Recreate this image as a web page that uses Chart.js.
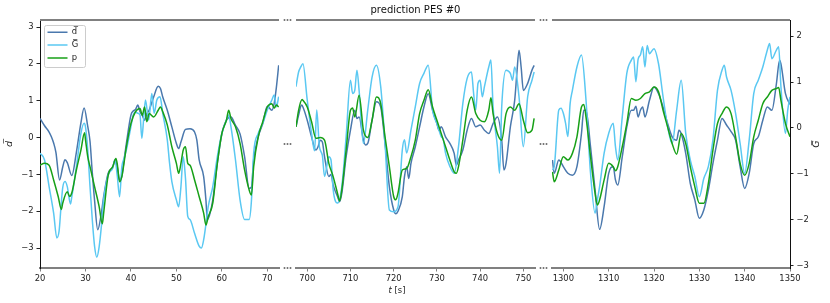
<!DOCTYPE html>
<html>
<head>
<meta charset="utf-8">
<script src="https://cdn.jsdelivr.net/npm/chart.js@4.4.1/dist/chart.umd.min.js"></script>
<style>
  html, body { margin: 0; padding: 0; background: #fff; }
  #wrap { position: relative; width: 830px; height: 303px; }
  #wrap canvas { position: absolute; left: 0; top: 0; }
</style>
</head>
<body>
<div id="wrap">
  <canvas id="c1" width="830" height="303"></canvas>
  <canvas id="c2" width="830" height="303"></canvas>
  <canvas id="c3" width="830" height="303"></canvas>
</div>
<script>
// time ranges shown in the three panels of the broken axis
const ranges = [[20, 72.57], [697.4, 752.7], [1297.5, 1350]];
const xTicks = [[20, 30, 40, 50, 60, 70], [700, 710, 720, 730, 740, 750], [1300, 1310, 1320, 1330, 1340, 1350]];
const yTicksLeft = [-3, -2, -1, 0, 1, 2, 3];
const yTicksRight = [-3, -2, -1, 0, 1, 2];

// d bar (left axis), [t, value]
const dBar1 = [[20,0.52],[21,0.32],[22,0.15],[22.5,0.02],[23,-0.15],[23.5,-0.4],[24.3,-1.15],[25,-0.8],[25.5,-0.6],[26,-0.68],[27,-1.03],[28,-0.4],[29,0.4],[29.7,0.8],[30.5,0.3],[31,-0.1],[31.5,-0.95],[32,-1.7],[32.7,-2.5],[33.5,-2.05],[34,-1.6],[35,-0.97],[36,-0.8],[36.5,-0.6],[37,-0.8],[37.5,-1.15],[38,-1.05],[38.5,-0.6],[39,-0.16],[40,0.61],[40.5,0.72],[41,0.76],[41.5,0.88],[42,0.7],[42.5,0.6],[43,0.47],[43.5,0.65],[44,0.74],[44.5,0.92],[45,1.1],[46,1.39],[46.5,1.33],[47,1.1],[48,0.74],[49,0.29],[50,-0.16],[50.5,-0.3],[51,-0.12],[52,0.22],[53,0.24],[54,0.15],[54.5,-0.07],[55,-0.6],[56,-1.06],[56.5,-1.7],[56.8,-2.22],[57.3,-2.1],[58,-1.7],[59,-0.7],[60,0.1],[61,0.47],[62,0.56],[63,0.33],[64,0.1],[65,-0.52],[66,-1.38],[66.5,-1.35],[67,-0.6],[68,0.02],[69,0.38],[70,0.85],[71,0.74],[71.5,0.92],[72,1.37],[72.5,1.96]];
const dBar2 = [[697.4,0.29],[698,0.61],[698.7,0.88],[699,0.83],[700,0.47],[701,0.02],[702,-0.34],[702.5,-0.25],[703,-0.07],[703.5,-0.12],[704,-0.52],[705,-1.06],[705.5,-1.0],[706,-1.29],[707,-1.6],[707.5,-1.74],[708,-1.51],[709,-0.52],[710,0.2],[711,0.74],[711.5,0.52],[712,0.56],[713,-0.07],[713.5,-0.2],[714,-0.16],[715,0.47],[716,0.97],[717,0.83],[718,-0.16],[719,-1.33],[720,-1.96],[720.5,-2.07],[721,-2.0],[722,-1.6],[722.5,-1.06],[723,-0.79],[723.5,-1.11],[724,-0.7],[725,-0.25],[726,0.29],[727,0.83],[728,1.19],[729,0.74],[730,0.38],[730.5,0.2],[731,0.29],[732,0.02],[733,-0.16],[734,-0.43],[734.5,-0.75],[735,-0.61],[736,-0.34],[737,0.2],[738,0.52],[739,0.29],[740,0.34],[741,0.2],[742,0.11],[743,0.38],[744,0.56],[745,-0.07],[745.5,-0.88],[746,-0.7],[747,0.29],[748,1.01],[748.5,1.74],[749,2.37],[749.5,1.9],[750,1.28],[751,1.47],[752,1.83],[752.5,1.96]];
const dBar3 = [[1297.6,-0.61],[1298,-0.97],[1299,-0.61],[1300,-0.79],[1301,-0.97],[1302,-1.02],[1303,-0.79],[1304,0.11],[1304.5,0.74],[1305,0.74],[1306,-0.25],[1307,-1.42],[1308,-2.49],[1309,-1.87],[1310,-0.97],[1311,-0.79],[1311.5,-1.15],[1312,-1.29],[1313,-0.52],[1314,0.29],[1315,0.74],[1315.5,0.74],[1316,0.85],[1316.5,0.56],[1317,0.74],[1317.5,0.83],[1318,0.56],[1319,1.01],[1320,1.37],[1321,1.19],[1322,0.83],[1323,0.38],[1324,0.02],[1325,-0.07],[1325.5,0.2],[1326,0.11],[1327,-0.43],[1328,-1.24],[1329,-1.69],[1330,-2.19],[1331,-1.96],[1332,-1.42],[1333,-0.7],[1334,-0.07],[1335,0.52],[1336,0.34],[1337,0.16],[1338,-0.07],[1339,-0.79],[1340,-1.38],[1341,-0.97],[1342,-0.16],[1343,0.02],[1344,0.47],[1345,0.83],[1346,0.74],[1347,1.46],[1347.7,2.1],[1348,2.0],[1349,1.19],[1350,0.9]];

// G bar (right axis)
const gBar1 = [[20,-0.55],[21,-0.7],[22,-1.28],[23,-1.86],[23.7,-2.4],[24.2,-2.25],[24.6,-1.75],[25,-1.3],[25.5,-1.17],[26,-1.28],[26.7,-1.66],[27,-1.5],[28,-0.85],[29,-0.12],[29.7,0.1],[30,0.03],[30.5,-0.48],[31,-1.28],[31.5,-2.0],[32,-2.58],[32.5,-2.82],[33,-2.6],[33.5,-2.15],[34,-1.57],[35,-1.03],[36,-0.88],[36.5,-0.7],[37,-1.05],[37.5,-1.5],[38,-0.85],[38.5,-0.66],[39,-0.48],[40,0.03],[40.5,0.28],[41,0.35],[41.5,0.32],[42,0.28],[42.4,-0.23],[42.8,0.2],[43.2,0.61],[43.9,0.17],[44.6,0.75],[45.1,0.32],[45.7,0.61],[46.4,0.68],[47,0.32],[48,-0.26],[48.5,-0.77],[49,-1.17],[50,-1.57],[50.5,-1.72],[51,-1.28],[51.5,-0.63],[52,-1.1],[52.5,-1.93],[53,-2.0],[54,-2.3],[55,-2.58],[55.5,-2.62],[56,-2.44],[56.5,-2.1],[57,-1.72],[58,-1.28],[59,-0.63],[60,-0.12],[61,0.17],[61.5,0.28],[62,0.03],[63,-0.7],[64,-1.57],[65,-2.0],[66,-2.0],[66.5,-1.6],[67,-0.55],[68,-0.12],[69,0.1],[70,0.39],[71,0.61],[71.5,0.72],[72,0.46],[72.5,0.68]];
const gBar2 = [[697.4,0.9],[698,1.22],[698.5,1.33],[699,1.4],[700,0.61],[701,-0.12],[701.7,-0.5],[702.2,0.39],[702.8,-0.4],[703.5,-0.6],[704,-1.06],[705,-0.63],[705.5,-0.7],[706,-1.35],[707,-1.64],[708,-1.28],[709,-0.19],[710,1.04],[710.5,0.75],[711,0.82],[711.5,1.26],[712,0.82],[713,-0.34],[714,0.39],[715,1.11],[716,1.37],[717,0.9],[718,-0.34],[719,-1.79],[720,-1.83],[721,-1.72],[722,-0.48],[722.5,-0.26],[723,-0.55],[724,-0.05],[725,0.46],[726,0.97],[727,1.19],[728,1.37],[729,0.39],[730,0.1],[731,-0.19],[731.5,-0.26],[732,-0.55],[733,-0.84],[734,-0.99],[735,-0.41],[736,0.53],[737,1.08],[738,1.22],[738.5,0.75],[739,0.39],[739.5,0.97],[740,1.04],[740.5,0.68],[741,0.9],[742,1.33],[742.5,1.48],[743,0.46],[744,-0.41],[744.5,-0.99],[745,0.46],[746,1.26],[747,1.19],[747.5,1.04],[748,1.33],[749,0.68],[750,-0.41],[751,0.68],[752,1.04],[752.5,1.22]];
const gBar3 = [[1297.6,-0.92],[1298,-0.84],[1299,0.39],[1299.5,0.43],[1300,0.32],[1300.5,0.1],[1301,-0.19],[1301.5,0.53],[1302,0.82],[1303,1.33],[1304,1.59],[1305,0.61],[1306,-0.99],[1307,-1.86],[1307.5,-1.57],[1308,-1.28],[1309,-0.55],[1310,-0.12],[1311,0.1],[1311.5,-0.41],[1312,-0.7],[1313,0.24],[1314,1.19],[1315,1.48],[1315.5,1.55],[1316,1.01],[1316.5,1.5],[1317,1.59],[1317.5,1.77],[1318,1.33],[1318.5,1.8],[1319,1.62],[1320,1.73],[1321,1.4],[1322,0.68],[1323,0.03],[1324,-0.34],[1325,0.39],[1326,1.04],[1327,-0.12],[1328,-0.7],[1329,-1.06],[1330,-1.5],[1331,-1.1],[1332,-0.84],[1333,-0.26],[1334,0.82],[1335,1.26],[1335.5,1.37],[1336,1.11],[1337,0.82],[1338,0.32],[1339,-0.34],[1340,-0.99],[1341,-0.26],[1342,0.75],[1343,1.04],[1344,1.33],[1345,1.7],[1345.5,1.84],[1346,1.51],[1347,1.7],[1347.5,1.77],[1348,0.9],[1349,-0.12],[1349.5,0.39],[1350,0.68]];

// p (left axis)
const pPred1 = [[20,-0.75],[21,-0.7],[22,-0.75],[23,-1.15],[24,-1.6],[24.7,-1.95],[25,-1.78],[26,-1.47],[26.5,-1.6],[27,-1.5],[28,-0.88],[29,-0.34],[29.8,0.13],[30,-0.05],[30.5,-0.52],[31,-0.79],[32,-1.33],[33,-1.87],[33.7,-2.34],[34,-2.05],[35,-1.02],[36,-0.79],[36.7,-0.57],[37,-0.72],[37.5,-1.2],[38,-1.06],[39,-0.25],[40,0.38],[41,0.7],[42,0.79],[42.5,0.6],[43,0.83],[43.5,0.43],[44,0.65],[45,0.56],[46,0.74],[46.5,0.83],[47,0.7],[48,0.34],[49,-0.25],[50,-0.7],[50.5,-0.97],[51,-0.7],[51.5,-0.34],[52,-0.25],[52.5,-0.7],[53,-0.75],[54,-1.15],[55,-1.6],[56,-2.05],[56.5,-2.37],[57,-2.15],[58,-1.78],[59,-0.7],[60,0.11],[61,0.47],[61.5,0.74],[62,0.52],[63,0.29],[64,-0.16],[65,-0.88],[66,-1.42],[66.5,-1.56],[67,-0.79],[68,0.02],[69,0.43],[70,0.83],[71,0.92],[71.5,0.8],[72,0.88],[72.5,0.83]];
const pPred2 = [[697.4,0.29],[698,0.74],[698.8,1.03],[699,1.01],[700,0.83],[701,0.43],[702,-0.02],[703,0.0],[704,-0.07],[705,-0.7],[706,-1.06],[707,-1.51],[707.5,-1.72],[708,-1.42],[709,-0.34],[710,0.74],[710.5,0.8],[711,0.56],[712,1.15],[713,0.2],[714,0.0],[715,0.47],[716,1.1],[717,0.92],[718,0.02],[719,-0.79],[720,-1.6],[720.5,-1.69],[721,-1.51],[722,-0.88],[723,-0.84],[724,-0.52],[725,-0.07],[726,0.65],[727,1.01],[728,1.3],[729,0.83],[730,0.47],[731,0.11],[732,-0.25],[733,-0.61],[734,-0.93],[734.5,-0.97],[735,-0.79],[736,-0.07],[737,0.74],[738,1.1],[739,0.65],[740,0.47],[741,0.43],[742,0.74],[742.5,1.08],[743,0.65],[744,0.11],[745,-0.07],[746,0.65],[747,0.83],[748,0.74],[749,0.92],[750,0.47],[751,0.13],[752,0.2],[752.5,0.52]];
const pPred3 = [[1297.6,-0.93],[1298,-1.2],[1299,-0.88],[1300,-0.52],[1301,-0.61],[1302,-0.43],[1303,0.02],[1304,0.83],[1304.5,0.9],[1305,0.56],[1306,-0.52],[1307,-1.51],[1307.5,-1.83],[1308,-1.69],[1309,-1.15],[1310,-0.7],[1311,-0.79],[1311.5,-0.9],[1312,-0.79],[1313,-0.25],[1314,0.38],[1315,1.06],[1316,1.01],[1317,1.06],[1318,1.19],[1319,1.24],[1320,1.37],[1321,1.24],[1322,0.74],[1323,0.29],[1324,-0.16],[1325,-0.45],[1326,0.11],[1327,-0.16],[1328,-0.79],[1329,-1.33],[1330,-1.78],[1331,-1.78],[1332,-1.24],[1333,-0.34],[1334,0.38],[1335,0.65],[1336,0.83],[1337,0.65],[1338,0.02],[1339,-0.7],[1340,-1.02],[1341,-0.7],[1342,0.02],[1343,0.47],[1344,0.92],[1345,1.1],[1346,1.28],[1347,1.33],[1347.5,1.36],[1348,1.01],[1349,0.38],[1350,0.02]];

const dSeries = [dBar1, dBar2, dBar3];
const gSeries = [gBar1, gBar2, gBar3];
const pSeries = [pPred1, pPred2, pPred3];

const C_D = '#4a78ad', C_G = '#5ac8f2', C_P = '#17a017';
const minus = v => String(v).replace('-', '\u2212');

Chart.defaults.font.family = 'DejaVu Sans';
Chart.defaults.font.size = 8.4;
Chart.defaults.color = '#222';
Chart.defaults.animation = false;

function dataset(label, data, color, axis, order) {
  return {
    label, data, borderColor: color, backgroundColor: color, borderWidth: 1.5,
    pointRadius: 0, cubicInterpolationMode: 'monotone', yAxisID: axis, order
  };
}

function xScale(i) {
  return {
    type: 'linear', min: ranges[i][0], max: ranges[i][1],
    afterBuildTicks: s => { s.ticks = xTicks[i].map(v => ({ value: v })); },
    afterFit: s => { s.height = 35; s.paddingLeft = 0; s.paddingRight = 0; },
    grid: { drawOnChartArea: false, color: '#808080', tickLength: 3.5 },
    border: { color: '#808080', width: 2 },
    ticks: { padding: 2, maxRotation: 0, autoSkip: false, callback: v => String(v) }
  };
}

function yScale(pos, show, min, max, ticks) {
  return {
    type: 'linear', position: pos, display: show, min, max,
    afterBuildTicks: s => { s.ticks = ticks.map(v => ({ value: v })); },
    afterFit: s => { s.width = show ? 40 : 0; },
    grid: { drawOnChartArea: false, color: '#222', tickLength: 3.5 },
    border: { color: '#111', width: 1 },
    ticks: { padding: 3, callback: minus }
  };
}

// top spine of each panel
const topSpine = {
  id: 'topSpine',
  afterDraw(chart) {
    const { ctx, chartArea: a } = chart;
    ctx.save();
    ctx.strokeStyle = '#808080';
    ctx.lineWidth = 2;
    ctx.beginPath();
    ctx.moveTo(a.left, a.top);
    ctx.lineTo(a.right, a.top);
    ctx.stroke();
    ctx.restore();
  }
};

// legend sits inside the first panel, top left, with a light frame
const legendBox = {
  id: 'legendBox',
  afterLayout(chart) {
    const lg = chart.legend;
    lg.left = chart.chartArea.left + 3;
    lg.top = chart.chartArea.top + 3.5;
  },
  beforeDraw(chart) {
    const lg = chart.legend;
    const pad = lg.options.labels.padding;
    const widest = Math.max(...lg.legendHitBoxes.map(b => b.width));
    const rows = lg.legendHitBoxes.length;
    const rowH = lg.legendHitBoxes[0].height;
    const x0 = lg.left + 1, y0 = lg.top + 1.5;
    const w = widest + 2 * pad + 1;
    const h = rows * rowH + (rows - 1) * pad + 2 * pad - 1;
    const ctx = chart.ctx;
    ctx.save();
    ctx.fillStyle = 'rgba(255,255,255,0.8)';
    ctx.strokeStyle = '#cccccc';
    ctx.lineWidth = 1;
    ctx.beginPath();
    ctx.roundRect(Math.round(x0) + 0.5, Math.round(y0) + 0.5, Math.round(w), Math.round(h), 2);
    ctx.fill();
    ctx.stroke();
    ctx.restore();
  }
};

// break marks and the x label, drawn with the middle panel
const breaks = {
  id: 'breaks',
  afterDraw(chart) {
    const { ctx, chartArea: a } = chart;
    ctx.save();
    ctx.fillStyle = '#555';
    const mid = (a.top + a.bottom) / 2;
    [a.left - 8.5, a.right + 8.5].forEach(cx => {
      [a.top, mid, a.bottom].forEach(cy => {
        for (let k = -1; k <= 1; k++) ctx.fillRect(cx + k * 3 - 0.8, cy - 0.8, 1.6, 1.6);
      });
    });
    // x axis label
    ctx.fillStyle = '#222';
    ctx.textBaseline = 'middle';
    ctx.font = 'italic 8.4px "DejaVu Sans"';
    const w1 = ctx.measureText('t').width;
    ctx.font = '8.4px "DejaVu Sans"';
    const w2 = ctx.measureText(' [s]').width;
    const x = 397 - (w1 + w2) / 2;
    ctx.font = 'italic 8.4px "DejaVu Sans"';
    ctx.fillText('t', x, 291);
    ctx.font = '8.4px "DejaVu Sans"';
    ctx.fillText(' [s]', x + w1, 291);
    ctx.restore();
  }
};

// right axis label, drawn reading upwards
const rightLabel = {
  id: 'rightLabel',
  afterDraw(chart) {
    const ctx = chart.ctx;
    ctx.save();
    ctx.translate(817, 144);
    ctx.rotate(-Math.PI / 2);
    ctx.font = 'italic 9.5px "DejaVu Sans"';
    ctx.fillStyle = '#222';
    ctx.textAlign = 'center';
    ctx.textBaseline = 'middle';
    ctx.fillText('G\u0305', 0, 0);
    ctx.restore();
  }
};

function datasets(i) {
  return [
    dataset('d\u0305', dSeries[i], C_D, 'y', 3),
    dataset('G\u0305', gSeries[i], C_G, 'y1', 2),
    dataset('p', pSeries[i], C_P, 'y', 1)
  ];
}

const yMinL = -3.54, yMaxL = 3.19, yMinR = -3.057, yMaxR = 2.355;

// panel 1, with left axis and legend
const left = yScale('left', true, yMinL, yMaxL, yTicksLeft);
left.title = { display: true, text: 'd\u0305', font: { size: 9.5, style: 'italic' }, padding: { top: 4, bottom: 0 } };
new Chart(document.getElementById('c1'), {
  type: 'line',
  data: { datasets: datasets(0) },
  options: {
    responsive: false,
    layout: { padding: { left: 0, right: 551, top: 20, bottom: 0 } },
    scales: {
      x: xScale(0),
      y: left,
      y1: yScale('right', false, yMinR, yMaxR, yTicksRight)
    },
    plugins: {
      legend: {
        position: 'chartArea', align: 'start',
        labels: {
          usePointStyle: true, pointStyle: 'line', pointStyleWidth: 20,
          padding: 4.5, color: '#222', font: { size: 8.4 },
          sort: (a, b) => a.datasetIndex - b.datasetIndex
        }
      },
      tooltip: { enabled: false }
    }
  },
  plugins: [topSpine, legendBox]
});

// panel 2, with title
new Chart(document.getElementById('c2'), {
  type: 'line',
  data: { datasets: datasets(1) },
  options: {
    responsive: false,
    layout: { padding: { left: 296, right: 295, top: 0, bottom: 0 } },
    scales: {
      x: xScale(1),
      y: yScale('left', false, yMinL, yMaxL, yTicksLeft),
      y1: yScale('right', false, yMinR, yMaxR, yTicksRight)
    },
    plugins: {
      legend: { display: false },
      tooltip: { enabled: false },
      title: {
        display: true, text: 'prediction PES #0', color: '#111',
        font: { size: 10, weight: 'normal' }, padding: { top: 4.5, bottom: 3.5 }
      }
    }
  },
  plugins: [topSpine, breaks]
});

// panel 3, with right axis
new Chart(document.getElementById('c3'), {
  type: 'line',
  data: { datasets: datasets(2) },
  options: {
    responsive: false,
    layout: { padding: { left: 552, right: 0, top: 20, bottom: 0 } },
    scales: {
      x: xScale(2),
      y: yScale('left', false, yMinL, yMaxL, yTicksLeft),
      y1: yScale('right', true, yMinR, yMaxR, yTicksRight)
    },
    plugins: { legend: { display: false }, tooltip: { enabled: false } }
  },
  plugins: [topSpine, rightLabel]
});
</script>
</body>
</html>
